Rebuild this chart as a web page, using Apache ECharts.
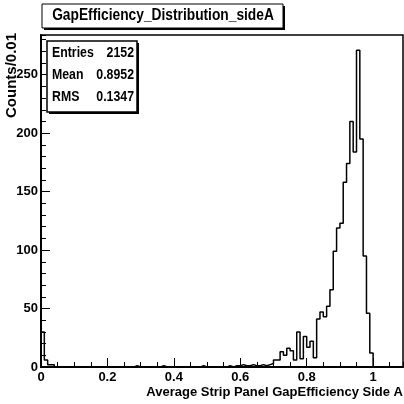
<!DOCTYPE html>
<html>
<head>
<meta charset="utf-8">
<script src="https://cdn.jsdelivr.net/npm/echarts@6/dist/echarts.min.js"></script>
<style>
  html, body { margin: 0; padding: 0; background: #fff; }
  #chart { width: 404px; height: 404px; }
</style>
</head>
<body>
<div id="chart"></div>
<script>
// bin width 0.01, bins from 0 to 1.0
const binWidth = 0.01;
const counts = [
  30, 6, 2, 2, 0, 0, 0, 0, 0, 0,
  0, 0, 0, 0, 0, 0, 0, 0, 0, 0,
  0, 0, 0, 0, 0, 0, 0, 0, 1, 0,
  0, 0, 0, 0, 0, 0, 1, 0, 0, 0,
  0, 0, 0, 0, 0, 0, 0, 0, 1, 0,
  0, 0, 0, 0, 0, 0, 1, 0, 1, 1,
  2, 1, 1, 2, 1, 1, 2, 1, 2, 3,
  6, 6, 13, 10, 16, 14, 6, 30, 7, 26,
  17, 22, 8, 41, 47, 43, 52, 66, 99, 119,
  123, 158, 174, 210, 184, 271, 195, 95, 46, 12
];
const statNames = ["Entries", "Mean", "RMS"];
const statValues = ["2152", "0.8952", "0.1347"];
const titleText = "GapEfficiency_Distribution_sideA";
const xTitle = "Average Strip Panel GapEfficiency Side A";
const yTitle = "Counts/0.01";

const font = "Liberation Sans, Arial, sans-serif";

// step outline points
let pts = [[0, 0]];
for (let i = 0; i < counts.length; i++) {
  pts.push([+(i * binWidth).toFixed(2), counts[i]]);
}
pts.push([+(counts.length * binWidth).toFixed(2), 0]);

let chart = echarts.init(document.getElementById("chart"));

let statGraphics = [];
for (let i = 0; i < statNames.length; i++) {
  statGraphics.push({
    type: "text", x: 52, y: 53 + i * 22, scaleX: 0.88, z: 11,
    style: { text: statNames[i], font: "bold 14px " + font, fill: "#000", verticalAlign: "middle" }
  });
  statGraphics.push({
    type: "text", x: 134, y: 53 + i * 22, scaleX: 0.88, z: 11,
    style: { text: statValues[i], font: "bold 14px " + font, fill: "#000", align: "right", verticalAlign: "middle" }
  });
}

let option = {
  animation: false,
  grid: {
    left: 41, right: 1, top: 35, bottom: 37,
    show: true, borderColor: "#000", borderWidth: 1.5, backgroundColor: "#fff"
  },
  xAxis: [
    {
      type: "value", min: 0, max: 1.09, interval: 0.2,
      axisLine: { show: true, onZero: false, lineStyle: { color: "#000", width: 2 } },
      axisTick: { show: true, inside: true, length: 9, lineStyle: { color: "#000", width: 1 } },
      axisLabel: {
        color: "#000", fontWeight: "bold", fontSize: 13, fontFamily: font,
        margin: 4, showMaxLabel: false
      },
      splitLine: { show: false }
    },
    {
      // minor ticks every 0.05
      type: "value", min: 0, max: 1.09, interval: 0.05, position: "bottom",
      axisLine: { show: false },
      axisTick: { show: true, inside: true, length: 5, lineStyle: { color: "#000", width: 1 } },
      axisLabel: { show: false },
      splitLine: { show: false }
    }
  ],
  yAxis: [
    {
      type: "value", min: 0, max: 284, interval: 50,
      axisLine: { show: true, lineStyle: { color: "#000", width: 2 } },
      axisTick: { show: true, inside: true, length: 9, lineStyle: { color: "#000", width: 1 } },
      axisLabel: {
        color: "#000", fontWeight: "bold", fontSize: 13, fontFamily: font,
        margin: 3, showMaxLabel: false
      },
      splitLine: { show: false }
    },
    {
      // minor ticks every 10
      type: "value", min: 0, max: 284, interval: 10, position: "left",
      axisLine: { show: false },
      axisTick: { show: true, inside: true, length: 5, lineStyle: { color: "#000", width: 1 } },
      axisLabel: { show: false },
      splitLine: { show: false }
    }
  ],
  series: [
    {
      type: "line", step: "end", data: pts, symbol: "none",
      lineStyle: { color: "#000", width: 1.5 },
      xAxisIndex: 0, yAxisIndex: 0, z: 3
    }
  ],
  graphic: [
    // title box with shadow
    { type: "rect", shape: { x: 44, y: 6, width: 241, height: 24 }, style: { fill: "#000" } },
    { type: "rect", shape: { x: 42, y: 4, width: 241, height: 24 },
      style: { fill: "#fff", stroke: "#000", lineWidth: 1 } },
    { type: "text", x: 163, y: 16, scaleX: 0.86,
      style: { text: titleText, font: "bold 16px " + font, fill: "#000", align: "center", verticalAlign: "middle" } },
    // stats box with shadow
    { type: "rect", shape: { x: 49, y: 43, width: 90, height: 71 }, style: { fill: "#000" }, z: 10 },
    { type: "rect", shape: { x: 47, y: 41, width: 90, height: 71 },
      style: { fill: "#fff", stroke: "#000", lineWidth: 1.5 }, z: 10 },
    ...statGraphics,
    // axis titles
    { type: "text", x: 12, y: 33, rotation: Math.PI / 2,
      style: { text: yTitle, font: "bold 15px " + font, fill: "#000", align: "right", verticalAlign: "middle" } },
    { type: "text", x: 403, y: 392,
      style: { text: xTitle, font: "bold 13px " + font, fill: "#000", align: "right", verticalAlign: "middle" } }
  ]
};
chart.setOption(option);
</script>
</body>
</html>
